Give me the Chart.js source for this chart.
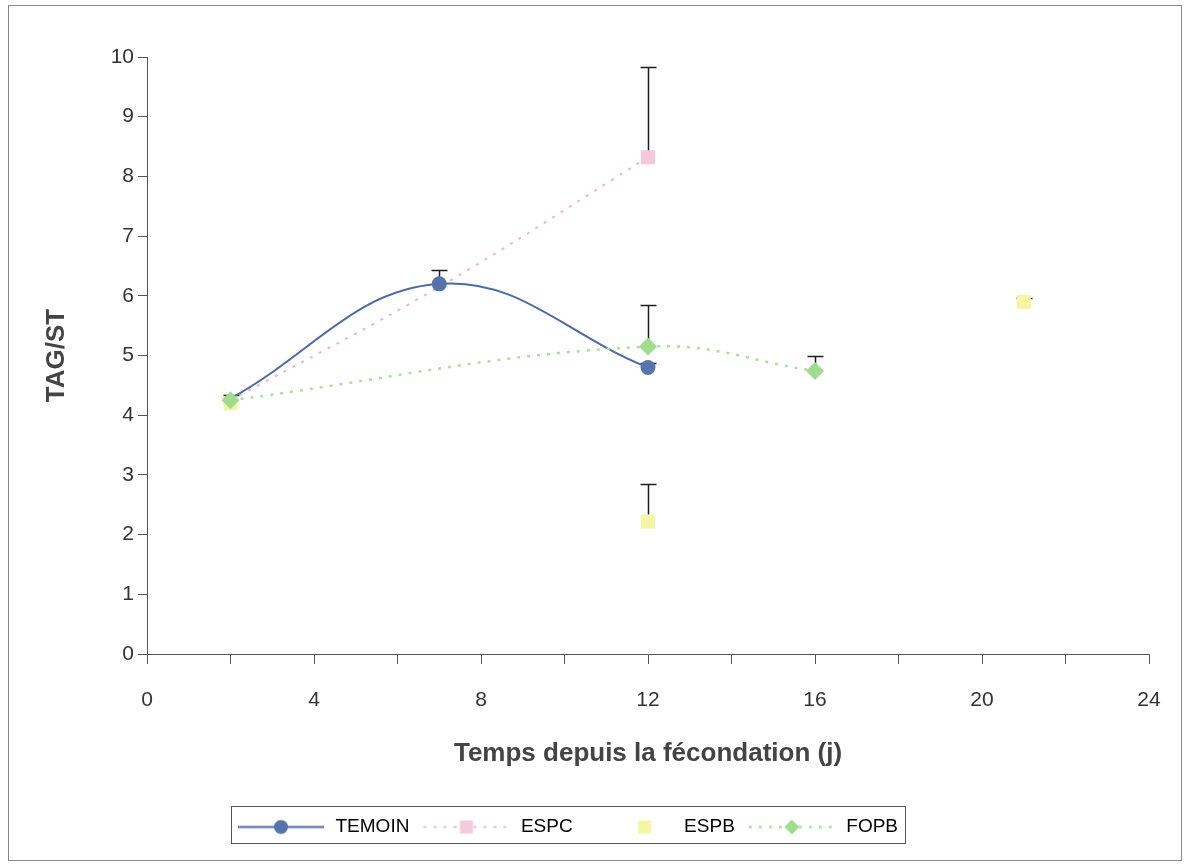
<!DOCTYPE html>
<html>
<head>
<meta charset="utf-8">
<script src="https://cdn.jsdelivr.net/npm/chart.js@4"></script>
<style>
  body { margin: 0; background: #fff; }
  canvas { display: block; }
</style>
</head>
<body>
<canvas id="tagChart" width="1187" height="866"></canvas>
<script>
// data
const temoinDays = [2, 7, 12];
const temoinValues = [4.28, 6.2, 4.8];
const temoinErr = [0.05, 0.23, 0.07];

const espcDays = [2, 7, 12];
const espcValues = [4.25, 6.15, 8.32];
const espcErr = [0, 0, 1.52];

const espbDays = [2, 12, 21];
const espbValues = [4.2, 2.22, 5.9];
const espbErr = [0, 0.62, 0.06];

const fopbDays = [2, 12, 16];
const fopbValues = [4.25, 5.15, 4.74];
const fopbErr = [0, 0.7, 0.26];

const xTicksLabelled = [0, 4, 8, 12, 16, 20, 24];

const FONT = '"Liberation Sans", Arial, sans-serif';

function toPoints(days, values) {
    return days.map((d, i) => ({ x: d, y: values[i] }));
}

// small canvas used as legend sample (line + marker)
function legendSample(opts) {
    const c = document.createElement('canvas');
    c.width = 90;
    c.height = 20;
    const g = c.getContext('2d');
    const mx = opts.mx || 45;
    if (opts.line) {
        g.strokeStyle = opts.line;
        g.lineWidth = opts.lineWidth || 2;
        g.setLineDash(opts.dash || []);
        g.beginPath();
        g.moveTo(2, 10.5);
        g.lineTo(88, 10.5);
        g.stroke();
        g.setLineDash([]);
    }
    g.fillStyle = opts.fill;
    g.beginPath();
    if (opts.marker === 'circle') {
        g.arc(mx, 10.5, 7, 0, Math.PI * 2);
    } else if (opts.marker === 'rect') {
        g.rect(mx - 6.5, 4, 13, 13);
    } else {
        g.moveTo(mx, 3); g.lineTo(mx + 7.5, 10.5); g.lineTo(mx, 18); g.lineTo(mx - 7.5, 10.5); g.closePath();
    }
    g.fill();
    return c;
}

const samples = [
    legendSample({ line: '#4a69a6', marker: 'circle', fill: '#5673ab' }),
    legendSample({ line: '#f2b3c9', dash: [3, 7], marker: 'rect', fill: '#f6c9da' }),
    legendSample({ marker: 'rect', fill: '#f3f7a3', mx: 60 }),
    legendSample({ line: '#a8e29a', dash: [3, 7], lineWidth: 2.5, marker: 'diamond', fill: '#9fdc8e' })
];
const legendNames = ['TEMOIN', 'ESPC', 'ESPB', 'FOPB'];

// upper error bars, drawn under the markers
const errorBars = {
    id: 'errorBars',
    beforeDatasetsDraw(chart) {
        const ctx = chart.ctx;
        const xs = chart.scales.x;
        const ys = chart.scales.y;
        ctx.save();
        ctx.strokeStyle = '#1e1e1e';
        ctx.lineWidth = 1.5;
        chart.data.datasets.forEach(ds => {
            ds.data.forEach((p, i) => {
                const e = ds.errUp[i];
                if (!e) return;
                const px = Math.round(xs.getPixelForValue(p.x)) + 0.5;
                const y0 = ys.getPixelForValue(p.y);
                const y1 = Math.round(ys.getPixelForValue(p.y + e)) + 0.5;
                ctx.beginPath();
                ctx.moveTo(px, y0);
                ctx.lineTo(px, y1);
                ctx.moveTo(px - 8, y1);
                ctx.lineTo(px + 8, y1);
                ctx.stroke();
            });
        });
        ctx.restore();
    }
};

// outer frame + boxed legend
const frame = {
    id: 'frame',
    beforeDraw(chart) {
        const ctx = chart.ctx;
        ctx.save();
        ctx.fillStyle = '#fff';
        ctx.fillRect(0, 0, chart.width, chart.height);
        ctx.strokeStyle = '#8a8a8a';
        ctx.lineWidth = 1;
        ctx.strokeRect(8.5, 5.5, 1173, 855);
        ctx.restore();
        // move legend row under the plot like the original
        chart.legend.left = 224;
    },
    afterDraw(chart) {
        const lg = chart.legend;
        const ctx = chart.ctx;
        const x0 = 231.5;
        const x1 = Math.round(lg.left + lg.lineWidths[0] + 7) + 0.5;
        ctx.save();
        ctx.strokeStyle = '#555';
        ctx.lineWidth = 1;
        ctx.strokeRect(x0, Math.round(lg.top) + 1.5, x1 - x0, 37);
        ctx.restore();
    }
};

new Chart(document.getElementById('tagChart'), {
    type: 'scatter',
    data: {
        datasets: [{
            label: 'TEMOIN',
            data: toPoints(temoinDays, temoinValues),
            errUp: temoinErr,
            showLine: true,
            tension: 0.4,
            borderColor: '#4a69a6',
            borderWidth: 2,
            backgroundColor: '#5673ab',
            pointBackgroundColor: '#5673ab',
            pointBorderWidth: 0,
            pointRadius: ctx => ctx.dataIndex === 0 ? 0 : 7.5,
            pointStyle: 'circle',
            order: 2
        }, {
            label: 'ESPC',
            data: toPoints(espcDays, espcValues),
            errUp: espcErr,
            showLine: true,
            tension: 0.4,
            borderColor: '#f2b3c9',
            borderWidth: 2,
            borderDash: [3, 7],
            pointBackgroundColor: '#f6c9da',
            pointBorderWidth: 0,
            pointRadius: ctx => ctx.dataIndex === 2 ? 10 : 0,
            pointStyle: 'rect',
            order: 3
        }, {
            label: 'ESPB',
            data: toPoints(espbDays, espbValues),
            errUp: espbErr,
            showLine: false,
            pointBackgroundColor: '#f3f7a3',
            pointBorderWidth: 0,
            pointRadius: 10,
            pointStyle: 'rect',
            order: 4
        }, {
            label: 'FOPB',
            data: toPoints(fopbDays, fopbValues),
            errUp: fopbErr,
            showLine: true,
            tension: 0.4,
            borderColor: '#a8e29a',
            borderWidth: 2.5,
            borderDash: [3, 7],
            pointBackgroundColor: '#9fdc8e',
            pointBorderWidth: 0,
            pointRadius: 9,
            pointStyle: 'rectRot',
            order: 1
        }]
    },
    options: {
        responsive: false,
        animation: false,
        devicePixelRatio: 1,
        layout: { padding: { left: 20, right: 38, top: 57, bottom: 20 } },
        plugins: {
            tooltip: { enabled: false },
            legend: {
                position: 'bottom',
                align: 'start',
                labels: {
                    usePointStyle: true,
                    pointStyleWidth: 90,
                    padding: 12,
                    color: '#333',
                    font: { family: FONT, size: 19 },
                    generateLabels: () => legendNames.map((n, i) => ({
                        text: n,
                        pointStyle: samples[i],
                        fillStyle: 'transparent',
                        strokeStyle: 'transparent',
                        lineWidth: 0,
                        hidden: false,
                        datasetIndex: i
                    }))
                }
            }
        },
        scales: {
            x: {
                type: 'linear',
                min: 0,
                max: 24,
                afterFit: s => { s.height = 151; },
                ticks: {
                    stepSize: 2,
                    padding: 24,
                    color: '#333',
                    font: { family: FONT, size: 21 },
                    maxRotation: 0,
                    autoSkip: false,
                    callback: v => xTicksLabelled.includes(v) ? String(v) : ''
                },
                grid: {
                    drawOnChartArea: false,
                    drawTicks: true,
                    tickLength: 10,
                    color: '#555'
                },
                border: { display: true, color: '#555' },
                title: {
                    display: true,
                    text: 'Temps depuis la fécondation (j)',
                    color: '#444',
                    font: { family: FONT, size: 26, weight: 'bold' },
                    padding: { top: 0, bottom: 36 }
                }
            },
            y: {
                min: 0,
                max: 10,
                afterFit: s => { s.width = 127; },
                ticks: {
                    stepSize: 1,
                    padding: 4,
                    color: '#333',
                    font: { family: FONT, size: 21 }
                },
                grid: {
                    drawOnChartArea: false,
                    drawTicks: true,
                    tickLength: 9,
                    color: '#555'
                },
                border: { display: true, color: '#555' },
                title: {
                    display: true,
                    text: 'TAG/ST',
                    color: '#444',
                    font: { family: FONT, size: 26, weight: 'bold' },
                    padding: { top: 21, bottom: 0 }
                }
            }
        }
    },
    plugins: [errorBars, frame]
});
</script>
</body>
</html>
